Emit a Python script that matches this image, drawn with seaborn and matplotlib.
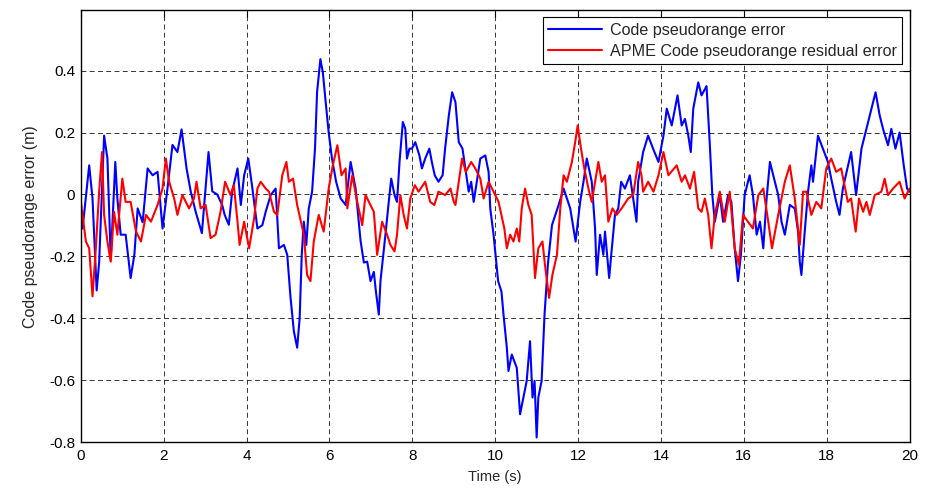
import numpy as np
import pandas as pd
import matplotlib
matplotlib.use("Agg")
import matplotlib.pyplot as plt
import seaborn as sns

# values (time in s, error in m)
t_code = [0.0, 0.04, 0.2, 0.28, 0.38, 0.44, 0.56, 0.64, 0.72, 0.83, 0.88, 0.96, 1.08, 1.2, 1.29, 1.37,
          1.49, 1.61, 1.73, 1.85, 1.97, 2.09, 2.21, 2.33, 2.43, 2.55, 2.65, 2.77, 2.92, 3.08, 3.17, 3.29,
          3.41, 3.47, 3.57, 3.65, 3.78, 3.86, 3.94, 4.04, 4.14, 4.26, 4.38, 4.46, 4.58, 4.70, 4.78, 4.90,
          4.98, 5.06, 5.14, 5.22, 5.28, 5.33, 5.38, 5.44, 5.50, 5.58, 5.65, 5.70, 5.78, 5.84, 5.90, 5.98,
          6.06, 6.16, 6.27, 6.39, 6.51, 6.63, 6.75, 6.83, 6.91, 6.99, 7.07, 7.12, 7.19, 7.23, 7.35, 7.43,
          7.49, 7.57, 7.63, 7.69, 7.77, 7.83, 7.87, 7.93, 7.99, 8.07, 8.17, 8.23, 8.31, 8.41, 8.47, 8.54,
          8.63, 8.73, 8.79, 8.88, 8.96, 9.04, 9.12, 9.21, 9.28, 9.36, 9.42, 9.48, 9.53, 9.64, 9.76, 9.84,
          9.88, 9.96, 10.07, 10.15, 10.2, 10.28, 10.32, 10.40, 10.52, 10.60, 10.68, 10.76, 10.84, 10.90,
          10.95, 11.0, 11.04, 11.12, 11.19, 11.27, 11.37, 11.45, 11.53, 11.65, 11.73, 11.81, 11.94, 12.05,
          12.13, 12.21, 12.33, 12.41, 12.45, 12.53, 12.61, 12.65, 12.75, 12.80, 12.89, 12.97, 13.04, 13.13,
          13.25, 13.33, 13.41, 13.45, 13.57, 13.69, 13.81, 13.94, 14.06, 14.14, 14.26, 14.40, 14.50, 14.58,
          14.66, 14.72, 14.78, 14.90, 14.98, 15.10, 15.18, 15.24, 15.30, 15.42, 15.50, 15.62, 15.70, 15.78,
          15.86, 15.93, 16.02, 16.14, 16.22, 16.31, 16.39, 16.47, 16.55, 16.63, 16.75, 16.83, 16.91, 16.99,
          17.11, 17.23, 17.31, 17.35, 17.39, 17.47, 17.55, 17.63, 17.67, 17.79, 17.91, 18.03, 18.11, 18.23,
          18.31, 18.39, 18.59, 18.71, 18.84, 19.0, 19.18, 19.28, 19.36, 19.48, 19.56, 19.66, 19.76, 19.86,
          19.94, 20.0]
err_code = [-0.077, -0.11, 0.094, -0.013, -0.31, -0.22, 0.19, 0.116, -0.21, 0.105, -0.013, -0.13, -0.13,
            -0.27, -0.195, -0.045, -0.09, 0.084, 0.062, 0.073, -0.11, 0.02, 0.16, 0.137, 0.21, 0.084, 0.01,
            -0.056, -0.125, 0.137, 0.01, 0.0, -0.034, -0.066, -0.098, 0.009, 0.084, -0.034, 0.062, 0.116,
            0.019, -0.11, -0.099, -0.056, -0.002, 0.019, -0.174, -0.163, -0.195, -0.334, -0.442, -0.495,
            -0.399, -0.195, -0.088, -0.163, -0.045, 0.009, 0.148, 0.33, 0.437, 0.394, 0.309, 0.2, 0.116,
            0.041, -0.013, -0.034, 0.105, 0.019, -0.15, -0.22, -0.217, -0.28, -0.25, -0.313, -0.388, -0.28,
            -0.13, -0.024, 0.051, -0.002, -0.024, 0.105, 0.234, 0.212, 0.116, 0.148, 0.148, 0.169, 0.126,
            0.084, 0.116, 0.148, 0.105, 0.062, 0.041, 0.062, 0.148, 0.255, 0.33, 0.298, 0.169, 0.148, 0.084,
            0.009, 0.041, -0.024, 0.019, 0.116, 0.126, 0.073, -0.045, -0.13, -0.28, -0.313, -0.388, -0.495,
            -0.57, -0.517, -0.56, -0.71, -0.656, -0.602, -0.474, -0.656, -0.602, -0.785, -0.656, -0.602,
            -0.388, -0.227, -0.099, -0.066, -0.034, 0.019, -0.013, -0.045, -0.152, -0.024, 0.041, 0.116,
            0.041, -0.11, -0.26, -0.13, -0.195, -0.12, -0.27, -0.195, -0.066, -0.045, 0.041, 0.019, 0.062,
            -0.013, -0.088, 0.041, 0.137, 0.19, 0.148, 0.105, 0.19, 0.277, 0.223, 0.32, 0.223, 0.244, 0.19,
            0.137, 0.277, 0.362, 0.32, 0.35, 0.159, -0.002, -0.088, -0.002, -0.088, -0.002, -0.024, -0.174,
            -0.28, -0.195, -0.002, 0.062, -0.002, -0.13, -0.088, -0.174, -0.013, 0.105, 0.041, -0.002,
            -0.088, -0.13, -0.034, -0.045, -0.12, -0.217, -0.26, -0.12, 0.009, 0.094, 0.041, 0.19, 0.148,
            0.105, 0.051, -0.024, -0.066, 0.019, 0.137, -0.002, 0.148, 0.234, 0.33, 0.255, 0.212, 0.159,
            0.212, 0.148, 0.2, 0.094, 0.019, 0.009]

t_apme = [0.0, 0.12, 0.2, 0.28, 0.36, 0.44, 0.51, 0.56, 0.64, 0.72, 0.80, 0.88, 1.0, 1.08, 1.2, 1.33,
          1.45, 1.57, 1.69, 1.85, 1.97, 2.05, 2.13, 2.25, 2.33, 2.45, 2.61, 2.73, 2.79, 2.89, 3.01, 3.13,
          3.25, 3.37, 3.48, 3.61, 3.69, 3.78, 3.83, 3.94, 4.06, 4.18, 4.26, 4.34, 4.46, 4.54, 4.66, 4.74,
          4.86, 4.96, 5.02, 5.12, 5.22, 5.38, 5.46, 5.54, 5.62, 5.74, 5.86, 5.98, 6.08, 6.19, 6.29, 6.39,
          6.43, 6.55, 6.67, 6.79, 6.87, 6.99, 7.07, 7.15, 7.27, 7.39, 7.47, 7.57, 7.63, 7.71, 7.79, 7.87,
          7.95, 8.06, 8.15, 8.31, 8.43, 8.53, 8.63, 8.79, 8.92, 9.0, 9.04, 9.12, 9.20, 9.29, 9.42, 9.52,
          9.64, 9.72, 9.84, 9.96, 10.08, 10.22, 10.28, 10.36, 10.44, 10.52, 10.58, 10.64, 10.72, 10.80,
          10.88, 10.96, 11.04, 11.14, 11.20, 11.30, 11.38, 11.49, 11.57, 11.65, 11.73, 11.85, 11.93, 11.99,
          12.07, 12.15, 12.25, 12.33, 12.49, 12.57, 12.65, 12.73, 12.83, 12.93, 13.05, 13.21, 13.33, 13.45,
          13.53, 13.57, 13.69, 13.82, 13.94, 14.06, 14.18, 14.38, 14.50, 14.58, 14.70, 14.80, 14.90, 14.98,
          15.06, 15.14, 15.22, 15.30, 15.42, 15.54, 15.66, 15.78, 15.88, 15.98, 16.10, 16.22, 16.35, 16.47,
          16.59, 16.68, 16.83, 16.99, 17.11, 17.23, 17.35, 17.43, 17.51, 17.63, 17.75, 17.87, 17.99, 18.11,
          18.23, 18.35, 18.43, 18.51, 18.59, 18.70, 18.78, 18.88, 18.96, 19.04, 19.16, 19.32, 19.40, 19.48,
          19.60, 19.76, 19.88, 20.0]
err_apme = [-0.024, -0.152, -0.174, -0.329, -0.174, 0.009, 0.137, -0.066, -0.152, -0.217, -0.056, -0.13,
            0.051, -0.024, -0.024, -0.12, -0.152, -0.066, -0.088, -0.034, 0.019, 0.116, 0.041, -0.013,
            -0.066, -0.002, -0.045, -0.013, 0.041, -0.045, -0.034, -0.141, -0.13, -0.056, 0.041, -0.002,
            0.03, -0.088, -0.163, -0.088, -0.174, -0.077, 0.019, 0.041, 0.019, 0.009, -0.056, -0.066, 0.062,
            0.105, 0.041, 0.051, -0.034, -0.13, -0.26, -0.28, -0.152, -0.066, -0.12, 0.019, 0.094, 0.159,
            0.062, 0.084, -0.045, 0.062, -0.024, -0.099, -0.002, -0.034, -0.056, -0.195, -0.088, -0.13,
            -0.163, -0.184, -0.13, -0.002, -0.066, -0.11, -0.013, 0.03, 0.009, 0.041, -0.024, -0.034, 0.009,
            -0.002, 0.019, -0.024, -0.034, 0.041, 0.116, 0.073, 0.105, 0.084, 0.051, -0.013, 0.041, 0.009,
            -0.024, -0.11, -0.174, -0.13, -0.152, -0.11, -0.152, -0.045, 0.019, -0.034, -0.066, -0.27,
            -0.174, -0.152, -0.227, -0.334, -0.26, -0.195, -0.045, 0.062, 0.041, 0.105, 0.169, 0.223, 0.148,
            0.084, 0.019, -0.024, 0.105, 0.041, 0.062, -0.088, -0.045, -0.066, -0.045, -0.013, -0.002,
            0.105, 0.062, 0.009, 0.041, 0.009, 0.062, 0.137, 0.062, 0.094, 0.041, 0.062, 0.019, 0.073,
            -0.045, -0.056, -0.013, -0.066, -0.174, -0.066, 0.009, -0.088, 0.009, -0.174, -0.227, -0.066,
            -0.088, -0.11, -0.002, 0.019, -0.088, -0.174, -0.066, 0.041, 0.094, -0.013, -0.163, 0.009,
            0.009, -0.066, -0.024, -0.045, 0.084, 0.116, 0.073, 0.084, 0.03, -0.024, -0.013, -0.12, -0.013,
            -0.056, -0.024, -0.066, -0.002, 0.009, 0.051, -0.002, 0.019, 0.041, -0.013, 0.019]

labels = ["Code pseudorange error", "APME Code pseudorange residual error"]
colors = ["#0000ff", "#ff0000"]
x_ticks = list(range(0, 21, 2))
y_ticks = [-0.8, -0.6, -0.4, -0.2, 0, 0.2, 0.4]
y_ticklabels = ["-0.8", "-0.6", "-0.4", "-0.2", "0", "0.2", "0.4"]

df = pd.concat([
    pd.DataFrame({"t": t_code, "err": err_code, "series": labels[0]}),
    pd.DataFrame({"t": t_apme, "err": err_apme, "series": labels[1]}),
], ignore_index=True)

sns.set_style("white")
plt.rcParams["font.family"] = ["Liberation Sans", "DejaVu Sans"]

fig = plt.figure(figsize=(9.3, 4.88), dpi=100)
ax = fig.add_axes([0.087, 0.094, 0.891, 0.885])

sns.lineplot(data=df, x="t", y="err", hue="series", hue_order=labels,
             palette=dict(zip(labels, colors)), estimator=None, sort=False,
             linewidth=1.5, ax=ax)

ax.set_xlim(0, 20)
ax.set_ylim(-0.8, 0.595)
ax.set_xticks(x_ticks)
ax.set_yticks(y_ticks)
ax.set_yticklabels(y_ticklabels)
ax.grid(True, color="#333333", linestyle=(0, (5, 3.5)), linewidth=0.7)
ax.tick_params(direction="in", length=5, width=0.8, labelsize=11, pad=4,
               top=True, right=True, colors="black")
ax.tick_params(axis="x", pad=5)
for s in ax.spines.values():
    s.set_color("black")
    s.set_linewidth(1.0)

ax.set_xlabel("Time (s)", fontsize=10.5, labelpad=5)
ax.set_ylabel("Code pseudorange error (m)", fontsize=11.5, labelpad=8)

leg = ax.legend(loc="upper right", fontsize=11.6, frameon=True, fancybox=False,
                edgecolor="black", framealpha=1, borderaxespad=0.45,
                handlelength=3.3, handletextpad=0.5, borderpad=0.35, labelspacing=0.35)
leg.get_frame().set_linewidth(0.8)
leg.set_title(None)

fig.savefig("out.png", dpi=100)
